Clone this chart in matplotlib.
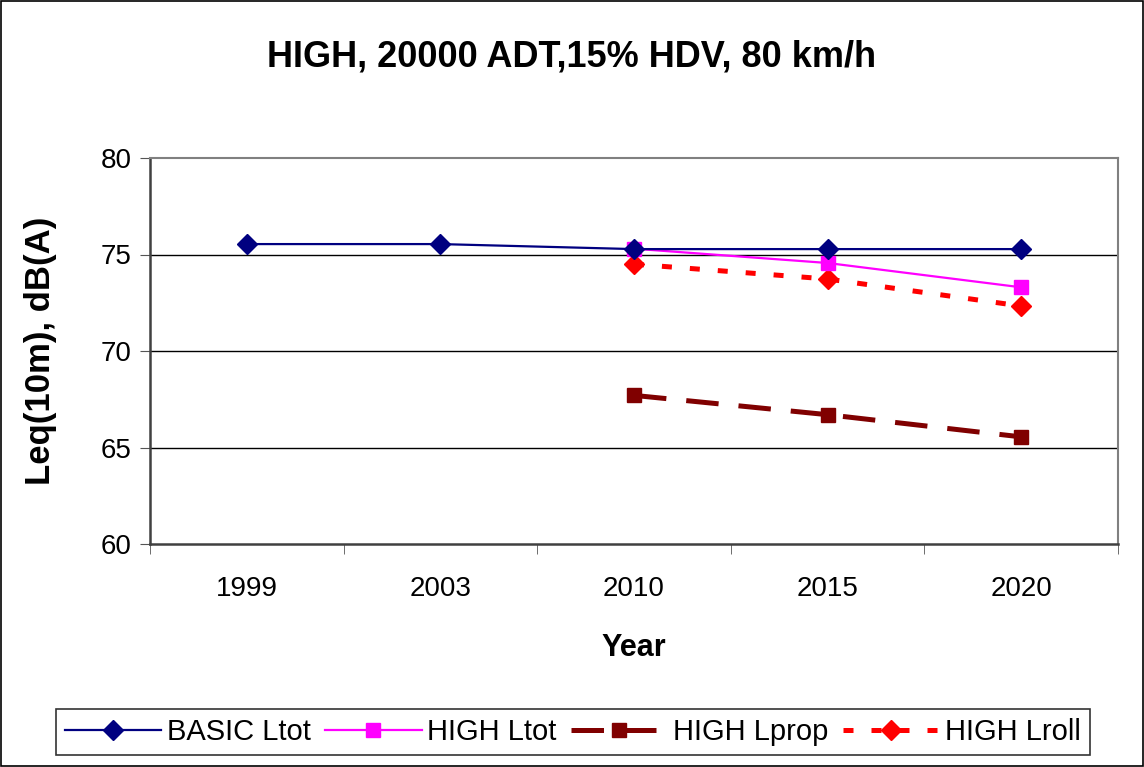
import numpy as np
import matplotlib.pyplot as plt
from matplotlib.patches import Rectangle

years = ["1999", "2003", "2010", "2015", "2020"]
basic_ltot = [75.54, 75.54, 75.28, 75.28, 75.28]
high_ltot = [None, None, 75.3, 74.56, 73.3]
high_lprop = [None, None, 67.7, 66.7, 65.55]
high_lroll = [None, None, 74.5, 73.73, 72.33]

plt.rcParams["font.family"] = ["Liberation Sans", "DejaVu Sans"]

fig = plt.figure(figsize=(11.44, 7.67), dpi=100)
ax = fig.add_axes([150 / 1144, 1 - 544 / 767, 968 / 1144, 386 / 767])

x = np.arange(len(years))


def _series(vals):
    idx = [i for i, v in enumerate(vals) if v is not None]
    return x[idx], [vals[i] for i in idx]


xs, ys = _series(basic_ltot)
ax.plot(xs, ys, color="#000080", lw=1.6, marker="D", ms=10.5, label="BASIC Ltot", zorder=5)
xs, ys = _series(high_ltot)
ax.plot(xs, ys, color="#FF00FF", lw=1.6, marker="s", ms=10, label="HIGH Ltot", zorder=4)
xs, ys = _series(high_lprop)
ax.plot(xs, ys, color="#800000", lw=3.6, marker="s", ms=10, dashes=(6.5, 4), label="HIGH Lprop", zorder=3)
xs, ys = _series(high_lroll)
ax.plot(xs, ys, color="#FF0000", lw=3.6, marker="D", ms=10.5, dashes=(2, 3.6), label="HIGH Lroll", zorder=3)

ax.set_xlim(-0.5, len(years) - 0.5)
ax.set_ylim(60, 80)
ax.set_yticks([60, 65, 70, 75, 80])
ax.set_xticks(x)
ax.set_xticklabels(years)
ax.set_xticks(np.arange(-0.5, len(years)), minor=True)
ax.tick_params(axis="x", which="major", length=0, pad=23, labelsize=20)
ax.tick_params(axis="x", which="minor", length=7, direction="out", color="#555555")
ax.tick_params(axis="y", length=7, direction="out", color="#555555", labelsize=20, pad=6)
for y in [65, 70, 75]:
    ax.axhline(y, color="black", lw=1, zorder=1)

for side in ["top", "right"]:
    ax.spines[side].set_color("#808080")
    ax.spines[side].set_linewidth(1.5)
ax.spines["left"].set_color("#404040")
ax.spines["left"].set_linewidth(1.8)
ax.spines["bottom"].set_color("#404040")
ax.spines["bottom"].set_linewidth(1.8)

ax.set_xlabel("Year", fontsize=22, fontweight="bold", labelpad=22)
ax.set_ylabel("Leq(10m), dB(A)", fontsize=25, fontweight="bold", labelpad=32)
fig.text(0.5, 1 - 57 / 767, "HIGH, 20000 ADT,15% HDV, 80 km/h", ha="center", va="center",
         fontsize=26, fontweight="bold")

leg = fig.legend(loc="center", bbox_to_anchor=(573 / 1144, 1 - 732 / 767), ncol=4,
                 fontsize=21, frameon=True, fancybox=False, edgecolor="black",
                 handlelength=3.3, handletextpad=0.2, columnspacing=0.5, borderpad=0.3,
                 borderaxespad=0)
leg.get_frame().set_linewidth(1.2)

fig.patches.append(Rectangle((0.001, 0.001), 0.998, 0.998, transform=fig.transFigure,
                             fill=False, edgecolor="black", lw=1.2))

fig.savefig("out.png", dpi=100)
